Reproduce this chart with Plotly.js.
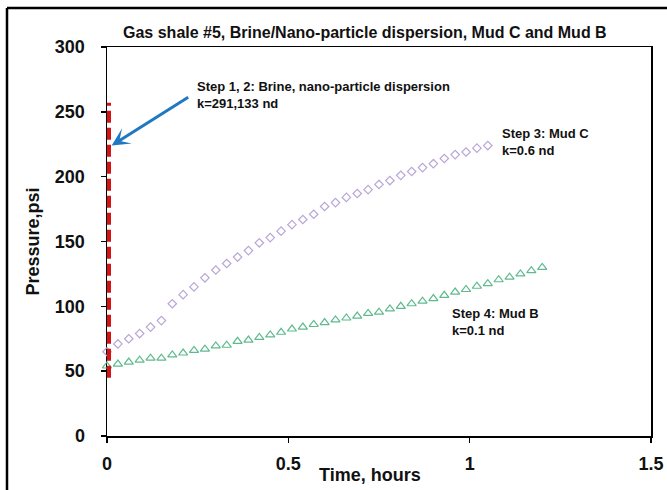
<!DOCTYPE html>
<html>
<head>
<meta charset="utf-8">
<script src="https://cdn.plot.ly/plotly-3.0.1.min.js"></script>
<style>html,body{margin:0;padding:0;background:#fff;}#chart{width:667px;height:490px;}</style>
</head>
<body>
<div id="chart"></div>
<script>
// Step 3: Mud C (purple diamonds)
const mudCTime = [0,0.03,0.06,0.09,0.12,0.15,0.18,0.21,0.24,0.27,0.30,0.33,0.36,0.39,0.42,0.45,0.48,0.51,0.54,0.57,0.60,0.63,0.66,0.69,0.72,0.75,0.78,0.81,0.84,0.87,0.90,0.93,0.96,0.99,1.02,1.05];
const mudCPressure = [65,71,75,79,84,89,102,109,115,122,128,133,138,143,149,153,158,163,167,171,177,180,184,187,190,194,197,201,204,207,210,214,217,219,222,224];
// Step 4: Mud B (green triangles)
const mudBTime = [0,0.03,0.06,0.09,0.12,0.15,0.18,0.21,0.24,0.27,0.30,0.33,0.36,0.39,0.42,0.45,0.48,0.51,0.54,0.57,0.60,0.63,0.66,0.69,0.72,0.75,0.78,0.81,0.84,0.87,0.90,0.93,0.96,0.99,1.02,1.05,1.08,1.11,1.14,1.17,1.20];
const mudBPressure = [54,55.5,57,58.5,60,60,62.5,64,66,67,69.5,70,73,74,76,78,80,82.5,84,86,87.5,89.5,91,92.5,94.5,95.5,98,100,102,104,106,108.5,111,113,115.5,117.5,120.5,122.5,125,127.5,130];
// Step 1, 2: Brine / nano-particle dispersion (red dashed, instantaneous)
const brineTime = [0,0];
const brinePressure = [45,257];

const xTicks = [0,0.5,1,1.5];
const xTickText = ['0','0.5','1','1.5'];
const yTicks = [0,50,100,150,200,250,300];

const FONT = 'Liberation Sans Narrow, Arial Narrow, Liberation Sans, Arial, sans-serif';

const traces = [
  {x: mudCTime, y: mudCPressure, mode:'markers', type:'scatter', cliponaxis:false,
   marker:{symbol:'diamond-open', size:6.5, color:'#b9a6d6', line:{width:1.2, color:'#b9a6d6'}}, showlegend:false},
  {x: mudBTime, y: mudBPressure, mode:'markers', type:'scatter', cliponaxis:false,
   marker:{symbol:'triangle-up-open', size:8, color:'#5fba8e', line:{width:1.2, color:'#5fba8e'}}, showlegend:false},
  {x: brineTime, y: brinePressure, mode:'lines', type:'scatter',
   line:{color:'#d41414', width:8, dash:'12px,5px'}, showlegend:false, hoverinfo:'skip'}
];

const annFont = {family: FONT, size: 13, color:'#111'};
const px = v => (v-107)/544, py = v => (436-v)/389;
const layout = {
  width:667, height:490,
  margin:{l:107, r:16, t:47, b:54, pad:0},
  paper_bgcolor:'#fff', plot_bgcolor:'#fff',
  title:{text:'<b>Gas shale #5, Brine/Nano-particle dispersion, Mud C and Mud B</b>',
         font:{family:FONT, size:16, color:'#111'}, x:0.547, xref:'container', xanchor:'center',
         y:1-32/490, yref:'container', yanchor:'middle'},
  xaxis:{range:[0,1.5], tickvals:xTicks, ticktext:xTickText, showgrid:false, zeroline:false,
         showline:true, linecolor:'#000', linewidth:1.5, mirror:true, layer:'below traces',
         ticks:'outside', ticklen:5, tickwidth:1.5, tickcolor:'#000', ticklabelstandoff:6,
         tickfont:{family:FONT, size:18, color:'#111', weight:'bold'}},
  yaxis:{range:[0,300], tickvals:yTicks, showgrid:false, zeroline:false,
         showline:true, linecolor:'#000', linewidth:1.5, mirror:true, layer:'below traces',
         ticks:'outside', ticklen:5, tickwidth:1.5, tickcolor:'#000', ticklabelstandoff:12,
         tickfont:{family:FONT, size:18, color:'#111', weight:'bold'},
         title:{text:'<b>Pressure,psi</b>', font:{family:FONT, size:18, color:'#111'}, standoff:10}},
  annotations:[
    {x:0.013, y:224, ax:0.228, ay:262, xref:'x', yref:'y', axref:'x', ayref:'y',
     showarrow:true, arrowhead:3, arrowsize:1, arrowwidth:3, arrowcolor:'#1f78c1', text:''},
    {x:0.243, y:(436-95)/1.2967, xref:'x', yref:'y', xanchor:'left', yanchor:'middle', align:'left',
     showarrow:false, font:annFont,
     text:'<b>Step 1, 2: Brine, nano-particle dispersion<br>k=291,133 nd</b>'},
    {x:(500-107)/362.7, y:(436-142)/1.2967, xref:'x', yref:'y', xanchor:'left', yanchor:'middle', align:'left',
     showarrow:false, font:annFont, text:'<b>Step 3: Mud C<br>k=0.6 nd</b>'},
    {x:(450-107)/362.7, y:(436-322)/1.2967, xref:'x', yref:'y', xanchor:'left', yanchor:'middle', align:'left',
     showarrow:false, font:annFont, text:'<b>Step 4: Mud B<br>k=0.1 nd</b>'},
    {x:px(370), y:py(475), xref:'paper', yref:'paper', xanchor:'center', yanchor:'middle',
     showarrow:false, font:{family:FONT, size:18, color:'#111'}, text:'<b>Time, hours</b>'}
  ],
  shapes:[
    {type:'line', xref:'paper', yref:'paper', x0:px(7), x1:px(700), y0:py(8), y1:py(8),
     line:{color:'#000', width:2.5}, layer:'below'},
    {type:'line', xref:'paper', yref:'paper', x0:px(7), x1:px(7), y0:py(8), y1:py(495),
     line:{color:'#000', width:2.5}, layer:'below'}
  ]
};

Plotly.newPlot('chart', traces, layout, {displayModeBar:false, staticPlot:true});
</script>
</body>
</html>
